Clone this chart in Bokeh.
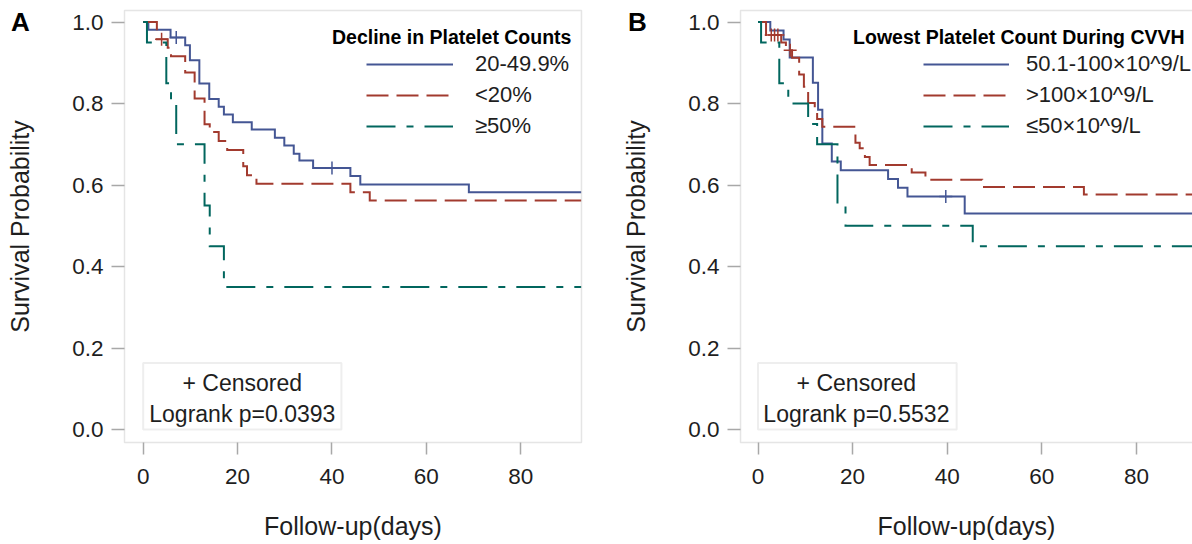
from bokeh.plotting import figure
from bokeh.models import (Range1d, FixedTicker, PrintfTickFormatter, Legend, LegendItem,
                          Label, BoxAnnotation, LinearAxis)
from bokeh.layouts import row
from bokeh.embed import file_html
from bokeh.resources import INLINE

FONT = "Liberation Sans"
BLUE, RED, TEAL = "#445694", "#A23A2E", "#01665E"
GRAY = "#a8a8a8"
TXT = "#1e1e1e"

# ---------------- Panel A: Decline in Platelet Counts ----------------
a_names = ["20-49.9%", "<20%", "≥50%"]
a_blue_t = [0, 1.1, 5.8, 8.9, 9.9, 11.9, 14.0, 16.0, 17.1, 19.0, 23.0, 27.9, 29.9, 31.9, 33.1, 36.0, 43.9, 46.0, 69.0, 92.8]
a_blue_s = [1.0, 0.981, 0.962, 0.943, 0.906, 0.849, 0.811, 0.792, 0.773, 0.754, 0.736, 0.716, 0.697, 0.677, 0.660, 0.642, 0.622, 0.601, 0.582, 0.582]
a_blue_cens_t = [7.0, 40.0]
a_blue_cens_s = [0.962, 0.642]
a_red_t = [0, 2.9, 5.2, 5.9, 8.9, 10.9, 13.0, 14.1, 16.0, 17.8, 21.2, 22.0, 24.0, 43.9, 48.0, 92.8]
a_red_s = [1.0, 0.958, 0.937, 0.916, 0.876, 0.812, 0.749, 0.730, 0.708, 0.686, 0.646, 0.624, 0.603, 0.582, 0.562, 0.562]
a_red_cens_t = [3.9]
a_red_cens_s = [0.958]
a_teal_t = [0, 0.8, 4.9, 5.9, 7.0, 13.0, 14.1, 17.1, 92.8]
a_teal_s = [1.0, 0.95, 0.85, 0.80, 0.70, 0.55, 0.45, 0.35, 0.35]
a_pvalue = "Logrank p=0.0393"
a_legend_title = "Decline in Platelet Counts"

# ---------------- Panel B: Lowest Platelet Count During CVVH ----------------
b_names = ["50.1-100×10^9/L", ">100×10^9/L", "≤50×10^9/L"]
b_blue_t = [0, 2.6, 5.4, 6.7, 11.6, 12.7, 13.6, 15.6, 17.5, 27.5, 29.6, 31.6, 43.7, 93]
b_blue_s = [1.0, 0.979, 0.957, 0.913, 0.851, 0.785, 0.702, 0.658, 0.636, 0.615, 0.593, 0.572, 0.530, 0.530]
b_blue_cens_t = [39.7]
b_blue_cens_s = [0.572]
b_red_t = [0, 1.7, 4.9, 5.9, 7.2, 8.7, 9.7, 10.6, 12.0, 12.5, 13.6, 20.6, 21.5, 22.6, 23.6, 32.5, 35.4, 47.4, 68.9, 93]
b_red_s = [1.0, 0.968, 0.950, 0.931, 0.912, 0.871, 0.841, 0.801, 0.782, 0.762, 0.743, 0.704, 0.690, 0.669, 0.649, 0.631, 0.613, 0.595, 0.577, 0.577]
b_red_cens_t = [2.8, 3.5, 4.2, 6.8]
b_red_cens_s = [0.968, 0.968, 0.968, 0.931]
b_teal_t = [0, 0.65, 4.5, 6.4, 10.6, 12.5, 16.8, 18.5, 45.4, 93]
b_teal_s = [1.0, 0.95, 0.85, 0.80, 0.75, 0.70, 0.55, 0.50, 0.45, 0.45]
b_pvalue = "Logrank p=0.5532"
b_legend_title = "Lowest Platelet Count During CVVH"

x_ticks = [0, 20, 40, 60, 80]
y_ticks = [0.0, 0.2, 0.4, 0.6, 0.8, 1.0]

DASHES = ["solid", "22 8", "29 11 7 11"]
COLORS = [BLUE, RED, TEAL]

# canvas-wide data window and the visible plot box (data units)
Y_VIEW = (-0.2822, 1.0528)
Y_BOX = (-0.0319, 1.0282)


def panel(letter, series, censors, names, ltitle, pval, width, xview, xbox, xaxis_bounds,
          leg_x, leg_standoff, leg_glyph_w, title_x, letter_x, box_cx):
    p = figure(width=width, height=544, output_backend="svg", toolbar_location=None,
               title=None, x_range=Range1d(*xview), y_range=Range1d(*Y_VIEW),
               x_axis_location=None, y_axis_location=None, min_border=0)
    p.grid.visible = False
    p.background_fill_color = "white"
    p.border_fill_color = "white"
    p.outline_line_color = None

    # plot box (frame) as an annotation
    p.add_layout(BoxAnnotation(left=xbox[0], right=xbox[1], bottom=Y_BOX[0], top=Y_BOX[1],
                               fill_color=None, fill_alpha=0, line_color=GRAY,
                               line_width=1.5))

    xa = LinearAxis(fixed_location=Y_BOX[0], bounds=xaxis_bounds)
    ya = LinearAxis(fixed_location=xbox[0], bounds=Y_BOX)
    p.add_layout(xa, "below")
    p.add_layout(ya, "left")
    for ax in (xa, ya):
        ax.axis_line_color = None
        ax.major_tick_line_color = GRAY
        ax.major_tick_line_width = 1.5
        ax.major_tick_in = 0
        ax.minor_tick_line_color = None
        ax.major_label_text_font = FONT
        ax.major_label_text_font_size = "22.5px"
        ax.major_label_text_color = TXT
        ax.axis_label_text_font = FONT
        ax.axis_label_text_font_size = "25px"
        ax.axis_label_text_font_style = "normal"
        ax.axis_label_text_color = TXT

    xa.ticker = FixedTicker(ticks=x_ticks)
    xa.axis_label = "Follow-up(days)"
    xa.major_tick_out = 12
    xa.major_label_standoff = 14
    xa.axis_label_standoff = 25
    ya.ticker = FixedTicker(ticks=y_ticks)
    ya.formatter = PrintfTickFormatter(format="%.1f")
    ya.axis_label = "Survival Probability"
    ya.major_tick_out = 13
    ya.major_label_standoff = 8
    ya.axis_label_standoff = 35

    renderers = []
    for (t, s), color, dash in zip(series, COLORS, DASHES):
        r = p.step(t, s, mode="after", line_color=color, line_width=2, line_dash=dash,
                   line_join="miter")
        renderers.append(r)
    for (ct, cs), color in zip(censors, COLORS):
        if ct:
            p.scatter(ct, cs, marker="cross", size=13, line_color=color, line_width=1.5)

    legend = Legend(items=[LegendItem(label=n, renderers=[r]) for n, r in zip(names, renderers)],
                    location=(leg_x, 404), orientation="vertical", padding=0, margin=0,
                    spacing=3, glyph_width=leg_glyph_w, glyph_height=28, label_height=28,
                    label_standoff=leg_standoff, label_text_font=FONT,
                    label_text_font_size="22px", label_text_color=TXT,
                    border_line_color=None, background_fill_alpha=0)
    p.add_layout(legend)

    p.add_layout(Label(x=title_x, y=0.963, text=ltitle, text_font=FONT,
                       text_font_style="bold", text_font_size="19.5px", text_color="black",
                       text_align="left", text_baseline="middle"))
    p.add_layout(Label(x=letter_x, y=1.0, text=letter, text_font=FONT,
                       text_font_style="bold", text_font_size="26px", text_color="black",
                       text_align="center", text_baseline="middle"))

    p.add_layout(BoxAnnotation(left=0, right=42, bottom=0, top=0.163, fill_color=None,
                               fill_alpha=0, line_color="#c8c8c8", line_width=2))
    p.add_layout(Label(x=box_cx, y=0.114, text="+ Censored", text_font=FONT,
                       text_font_size="23px", text_color=TXT, text_align="center",
                       text_baseline="middle"))
    p.add_layout(Label(x=box_cx, y=0.037, text=pval, text_font=FONT,
                       text_font_size="23px", text_color=TXT, text_align="center",
                       text_baseline="middle"))
    return p


pa = panel("A",
           [(a_blue_t, a_blue_s), (a_red_t, a_red_s), (a_teal_t, a_teal_s)],
           [(a_blue_cens_t, a_blue_cens_s), (a_red_cens_t, a_red_cens_s), ([], [])],
           a_names, a_legend_title, a_pvalue,
           width=600, xview=(-30.23, 96.89), xbox=(-3.96, 92.86), xaxis_bounds=(-3.96, 92.86),
           leg_x=366, leg_standoff=22, leg_glyph_w=87, title_x=40.0, letter_x=-26.0,
           box_cx=21.0)

pb = panel("B",
           [(b_blue_t, b_blue_s), (b_red_t, b_red_s), (b_teal_t, b_teal_s)],
           [(b_blue_cens_t, b_blue_cens_s), (b_red_cens_t, b_red_cens_s), ([], [])],
           b_names, b_legend_title, b_pvalue,
           width=592, xview=(-33.30, 91.86), xbox=(-3.70, 93.5), xaxis_bounds=(-3.70, 93.5),
           leg_x=323, leg_standoff=17, leg_glyph_w=86, title_x=20.1, letter_x=-25.5,
           box_cx=20.8)

layout = row(pa, pb)
open("out.html", "w").write(file_html(layout, INLINE))
